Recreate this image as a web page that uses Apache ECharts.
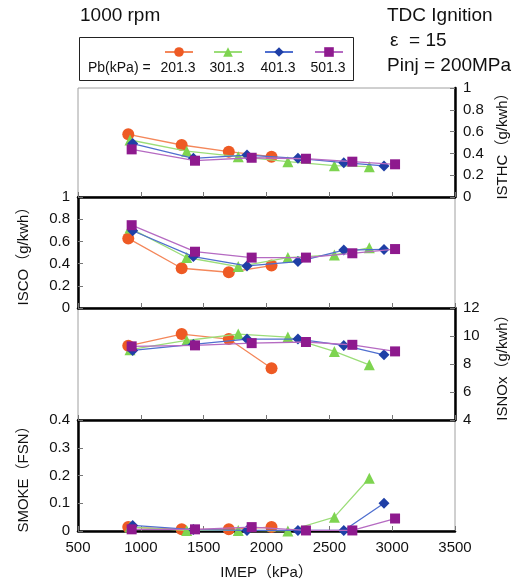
<!DOCTYPE html>
<html><head><meta charset="utf-8">
<script src="https://cdn.jsdelivr.net/npm/echarts@6/dist/echarts.min.js"></script>
<style>html,body{margin:0;padding:0;background:#fff}#c{width:520px;height:584px}</style>
</head><body><div id="c"></div>
<script>
// ---- data ----
const seriesNames = ['201.3', '301.3', '401.3', '501.3'];
const xTickLabels = ['500', '1000', '1500', '2000', '2500', '3000', '3500'];
// IMEP (kPa) per series
const imep201 = [900, 1325, 1700, 2040];
const imep301 = [914, 1365, 1775, 2170, 2540, 2818];
const imep401 = [935, 1418, 1845, 2250, 2615, 2935];
const imep501 = [927, 1431, 1882, 2314, 2683, 3023];
// ISTHC (g/kwh)
const isthc201 = [0.575, 0.477, 0.416, 0.37];
const isthc301 = [0.523, 0.42, 0.37, 0.324, 0.287, 0.278];
const isthc401 = [0.49, 0.355, 0.385, 0.355, 0.315, 0.285];
const isthc501 = [0.437, 0.333, 0.36, 0.351, 0.324, 0.30];
// ISCO (g/kwh)
const isco201 = [0.627, 0.358, 0.322, 0.382];
const isco301 = [0.72, 0.455, 0.373, 0.454, 0.478, 0.543];
const isco401 = [0.696, 0.463, 0.379, 0.418, 0.522, 0.528];
const isco501 = [0.746, 0.507, 0.454, 0.454, 0.493, 0.531];
// ISNOx (g/kwh)
const isnox201 = [9.30, 10.14, 9.78, 7.70];
const isnox301 = [9.02, 9.68, 10.14, 9.92, 8.90, 7.94];
const isnox401 = [8.97, 9.4, 9.78, 9.78, 9.33, 8.66];
const isnox501 = [9.26, 9.33, 9.49, 9.57, 9.37, 8.90];
// SMOKE (FSN)
const smoke201 = [0.014, 0.006, 0.006, 0.014];
const smoke301 = [0.014, 0.002, 0.002, 0.0, 0.05, 0.19];
const smoke401 = [0.02, 0.005, 0.002, 0.002, 0.002, 0.10];
const smoke501 = [0.006, 0.006, 0.014, 0.002, 0.002, 0.045];

// ---- styles ----
const FONT = "'Liberation Sans', Arial, 'Noto Sans CJK JP', sans-serif";
const markerColors = ['#EE5A24', '#7ED450', '#1F3FA6', '#8E1A8E'];
const lineColors = ['#F4875A', '#9BDD78', '#4F6FCF', '#B56AC2'];
const symbols = ['circle', 'triangle', 'diamond', 'rect'];
const symbolSizes = [12, 11, 11, 10];

const imeps = [imep201, imep301, imep401, imep501];
const panels = [
  [isthc201, isthc301, isthc401, isthc501],
  [isco201, isco301, isco401, isco501],
  [isnox201, isnox301, isnox401, isnox501],
  [smoke201, smoke301, smoke401, smoke501]
];
const panelAxes = [
  {name: 'ISTHC（g/kwh）', pos: 'right', min: 0, max: 1, interval: 0.2},
  {name: 'ISCO（g/kwh）', pos: 'left', min: 0, max: 1, interval: 0.2},
  {name: 'ISNOx（g/kwh）', pos: 'right', min: 4, max: 12, interval: 2},
  {name: 'SMOKE（FSN）', pos: 'left', min: 0, max: 0.4, interval: 0.1}
];
const gridTops = [88, 197, 308, 420];
const gridHeights = [109, 111, 112, 111];

const grid = gridTops.map((t, i) => ({
  left: 78, right: 65, top: t, height: gridHeights[i],
  show: true, borderColor: '#a0a0a0', borderWidth: 1, backgroundColor: 'transparent'
}));

const xAxis = gridTops.map((t, i) => ({
  type: 'value', gridIndex: i, min: 500, max: 3500, interval: 500,
  axisLine: {show: true, onZero: false, lineStyle: {color: '#000', width: 2.5}},
  axisTick: {show: true, inside: true, length: 5, lineStyle: {color: '#777', width: 1}},
  splitLine: {show: false},
  axisLabel: {show: i === 3, margin: 9, color: '#111', fontSize: 15, fontFamily: FONT,
    formatter: v => xTickLabels[Math.round((v - 500) / 500)]},
  name: i === 3 ? 'IMEP（kPa）' : '',
  nameLocation: 'middle', nameGap: 34,
  nameTextStyle: {color: '#111', fontSize: 15, fontFamily: FONT}
}));

const yAxis = panelAxes.map((a, i) => ({
  type: 'value', gridIndex: i, position: a.pos, min: a.min, max: a.max, interval: a.interval,
  axisLine: {show: true, onZero: false, lineStyle: {color: '#000', width: 2.5}},
  axisTick: {show: true, inside: true, length: 5, lineStyle: {color: '#777', width: 1}},
  splitLine: {show: false},
  axisLabel: {show: true, margin: 8, color: '#111', fontSize: 15, fontFamily: FONT,
    showMinLabel: true, showMaxLabel: true,
    formatter: v => String(Math.round(v * 100) / 100)},
  name: a.name, nameLocation: 'middle', nameRotate: 90,
  nameGap: a.pos === 'left' ? 47 : 40,
  nameTextStyle: {color: '#111', fontSize: 15, fontFamily: FONT}
}));

const series = [];
panels.forEach((vals, p) => {
  vals.forEach((ys, g) => {
    series.push({
      type: 'line', name: seriesNames[g], xAxisIndex: p, yAxisIndex: p,
      data: ys.map((y, k) => [imeps[g][k], y]),
      symbol: symbols[g], symbolSize: symbolSizes[g],
      itemStyle: {color: markerColors[g]},
      lineStyle: {color: lineColors[g], width: 1.3},
      z: 2 + g, animation: false
    });
  });
});

const legendCenters = [178, 227, 278, 328];
const legend = seriesNames.map((n, g) => ({
  data: [n], left: legendCenters[g] - 14, top: 46, padding: 0,
  itemWidth: 28, itemHeight: 12, itemGap: 0, formatter: () => '',
  selectedMode: false, textStyle: {fontSize: 1}
}));

const txt = (x, y, s, size, align) => ({
  type: 'text', left: x, top: y,
  style: {text: s, font: size + 'px ' + FONT, fill: '#111', textAlign: align || 'left'}
});
const graphic = [
  {type: 'rect', shape: {x: 79.5, y: 37.5, width: 274, height: 43}, style: {fill: 'none', stroke: '#222', lineWidth: 1}},
  txt(88, 61, 'Pb(kPa) = ', 14),
  ...seriesNames.map((n, g) => ({type: 'text', x: legendCenters[g], y: 61,
    style: {text: n, font: '14px ' + FONT, fill: '#111', textAlign: 'center'}})),
  txt(80, 6, '1000 rpm', 19),
  txt(387, 6, 'TDC Ignition', 19),
  txt(390, 31, 'ε  = 15', 19),
  txt(387, 56, 'Pinj = 200MPa', 19)
];

const chart = echarts.init(document.getElementById('c'), null, {renderer: 'canvas'});
chart.setOption({animation: false, backgroundColor: '#fff', grid, xAxis, yAxis, series, legend, graphic});
</script></body></html>
